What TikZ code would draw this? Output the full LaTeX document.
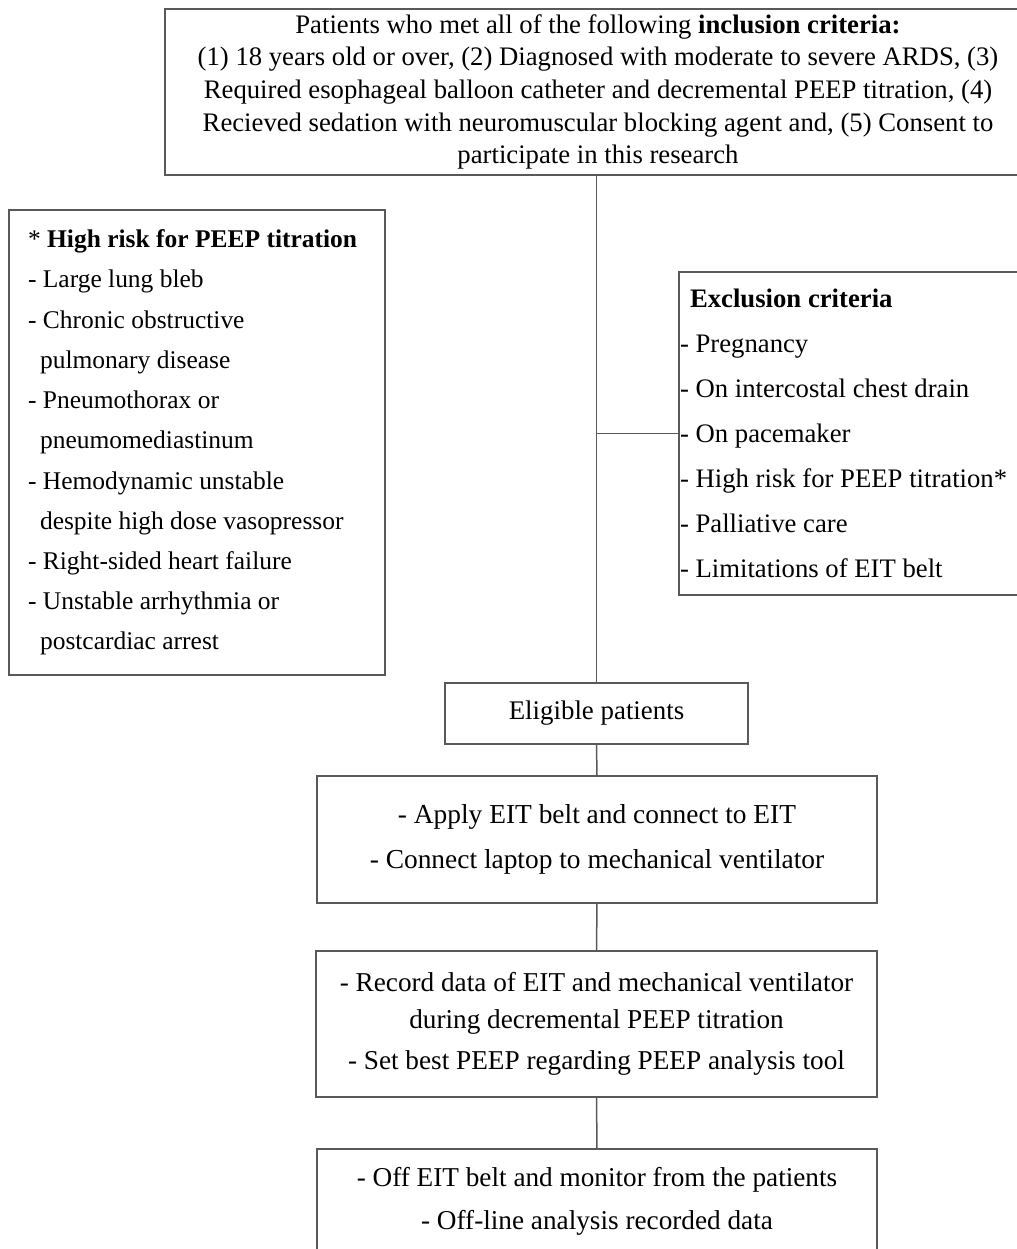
\documentclass[tikz,border=0pt]{standalone}
\usepackage{fontspec}
\setmainfont{Liberation Serif}

\begin{document}
\begin{tikzpicture}[x=0.02cm, y=-0.02cm,
	box/.style={draw=black!65, line width = 0.3mm, inner sep=0pt},
	link/.style={draw=black!65, line width = 0.3mm}]

		\useasboundingbox (0,0) rectangle (1017,1249);
		\clip (0,0) rectangle (1017,1249);

		\node[box, minimum width=17.32cm, minimum height=3.32cm, align=center,
			font=\fontsize{15.2}{18.6}\selectfont] (incl) at (598,92)
			{Patients who met all of the following \textbf{inclusion criteria:}\\
			(1) 18 years old or over, (2) Diagnosed with moderate to severe ARDS, (3)\\
			Required esophageal balloon catheter and decremental PEEP titration, (4)\\
			Recieved sedation with neuromuscular blocking agent and, (5) Consent to\\
			participate in this research};

		\node[box, minimum height=9.3cm, inner xsep=0.38cm, text width=6.76cm, align=flush left,
			font=\fontsize{14.5}{22.9}\selectfont] (risk) at (197,442.5)
			{* \textbf{High risk for PEEP titration}\\
			- Large lung bleb\\
			- Chronic obstructive\\
			\hspace*{0.24cm}pulmonary disease\\
			- Pneumothorax or\\
			\hspace*{0.24cm}pneumomediastinum\\
			- Hemodynamic unstable\\
			\hspace*{0.24cm}despite high dose vasopressor\\
			- Right-sided heart failure\\
			- Unstable arrhythmia or\\
			\hspace*{0.24cm}postcardiac arrest};

		\node[box, minimum height=6.46cm, inner xsep=0.02cm, text width=6.98cm, align=flush left,
			font=\fontsize{15.2}{25.6}\selectfont] (excl) at (854.5,433.5)
			{\hspace*{0.2cm}\textbf{Exclusion criteria}\\
			- Pregnancy\\
			- On intercostal chest drain\\
			- On pacemaker\\
			- High risk for PEEP titration*\\
			- Palliative care\\
			- Limitations of EIT belt};

		\node[box, minimum width=6.06cm, minimum height=1.22cm,
			font=\fontsize{15.3}{25.6}\selectfont] (elig) at (596.5,713.5) {Eligible patients};

		\node[box, minimum width=11.2cm, minimum height=2.54cm, align=center,
			font=\fontsize{15.6}{25.6}\selectfont] (belt) at (597,839.5)
			{- Apply EIT belt and connect to EIT\\
			- Connect laptop to mechanical ventilator};

		\node[box, minimum width=11.22cm, minimum height=2.92cm, align=center,
			font=\fontsize{15.5}{21}\selectfont] (rec) at (596.5,1024)
			{- Record data of EIT and mechanical ventilator\\
			during decremental PEEP titration\\[2.3pt]
			- Set best PEEP regarding PEEP analysis tool};

		\node[box, minimum width=11.2cm, minimum height=2.1cm, align=center,
			font=\fontsize{15.5}{24.5}\selectfont] (off) at (597,1201.5)
			{- Off EIT belt and monitor from the patients\\
			- Off-line analysis recorded data};

		% connectors
		\coordinate (split) at (elig.north |- excl.west);
		\draw[link] (elig.north |- incl.south) -- (elig.north);
		\draw[link] (split) -- (excl.west);
		\draw[link] (elig.south) -- (belt.north);
		\draw[link] (belt.south) -- (rec.north);
		\draw[link] (rec.south) -- (off.north);

\end{tikzpicture}
\end{document}
